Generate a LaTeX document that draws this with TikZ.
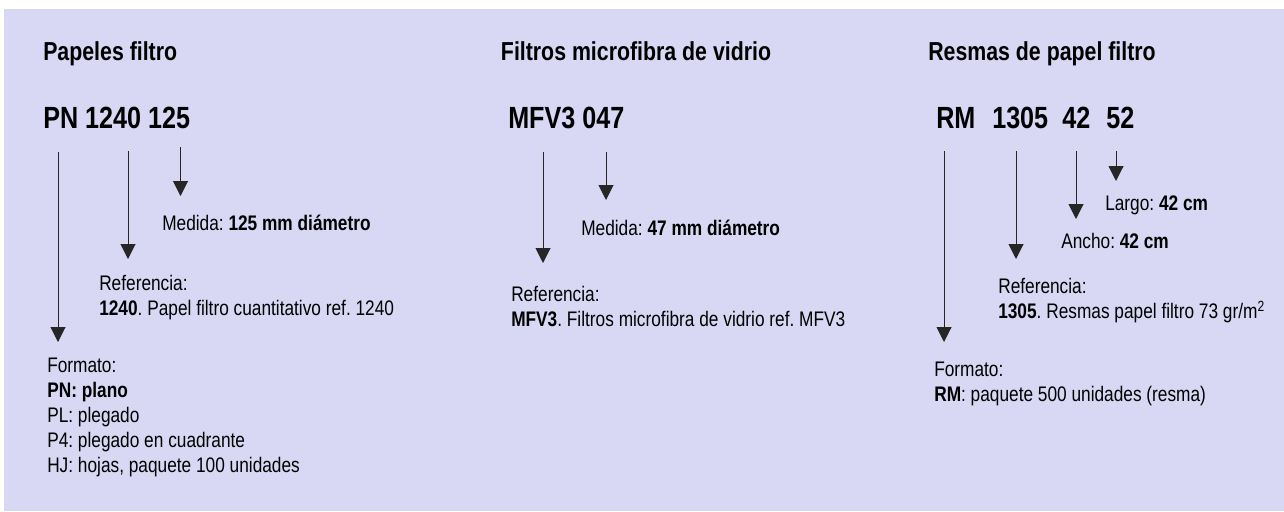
\documentclass[tikz,border=0pt]{standalone}
\usepackage{fontspec}
\setmainfont{Liberation Sans}[FakeStretch=0.82]
\usetikzlibrary{arrows.meta}

\definecolor{lavanda}{RGB}{216,216,244}
\frenchspacing

\begin{document}
\begin{tikzpicture}[x=0.75pt, y=-0.75pt,
    titulo/.style={anchor=base west, inner sep=0pt, font=\fontsize{19.5}{23}\selectfont\bfseries},
    codigo/.style={anchor=base west, inner sep=0pt, font=\fontsize{23}{27}\selectfont\bfseries},
    texto/.style={anchor=base west, inner sep=0pt, align=left, font=\fontsize{15.8}{18.75}\selectfont},
    bloque/.style={texto, anchor=north west},
    flecha/.style={-{Triangle[width=11.25pt,length=11.25pt]}, line width=0.75pt, color=black!85}]

	  % fondo
	  \fill[white] (0,0) rectangle (1284,511);
	  \fill[lavanda] (4,9) rectangle (1284,511);

	  % papeles filtro
	  \node[titulo] (t1) at (43,60) {Papeles filtro};
	  \node[codigo] (c1) at (43,128.5) {PN 1240 125};
	  \node[texto] (med1) at (162,230) {Medida: \textbf{125 mm diámetro}};
	  \node[bloque] (ref1) at (99,274.8) {Referencia:\\ \textbf{1240}. Papel filtro cuantitativo ref. 1240};
	  \node[bloque] (form1) at (47,358) {Formato:\\ \textbf{PN: plano}\\ PL: plegado\\ P4: plegado en cuadrante\\ HJ: hojas, paquete 100 unidades};

	  \coordinate (a1) at (58,152);    \coordinate (b1) at (58,342);
	  \coordinate (a2) at (128,151);   \coordinate (b2) at (128,259);
	  \coordinate (a3) at (180.5,147); \coordinate (b3) at (180.5,196);

	  \path (a1) edge[flecha] (b1)
		(a2) edge[flecha] (b2)
		(a3) edge[flecha] (b3);

	  % filtros microfibra de vidrio
	  \node[titulo] (t2) at (500.7,60) {Filtros microfibra de vidrio};
	  \node[codigo] (c2) at (508,128.5) {MFV3 047};
	  \node[texto] (med2) at (581,235.5) {Medida: \textbf{47 mm diámetro}};
	  \node[bloque] (ref2) at (511,285.8) {Referencia:\\ \textbf{MFV3}. Filtros microfibra de vidrio ref. MFV3};

	  \coordinate (a4) at (543,152); \coordinate (b4) at (543,263);
	  \coordinate (a5) at (606,152); \coordinate (b5) at (606,200);

	  \path (a4) edge[flecha] (b4)
		(a5) edge[flecha] (b5);

	  % resmas de papel filtro
	  \node[titulo] (t3) at (928,60) {Resmas de papel filtro};
	  \node[codigo] (rm) at (936,128.5) {RM};
	  \node[codigo] (num) at (992,128.5) {1305};
	  \node[codigo] (anc) at (1062,128.5) {42};
	  \node[codigo] (lar) at (1106,128.5) {52};
	  \node[texto] (largo) at (1105,210) {Largo: \textbf{42 cm}};
	  \node[texto] (ancho) at (1061,248) {Ancho: \textbf{42 cm}};
	  \node[bloque] (ref3) at (998,278) {Referencia:\\ \textbf{1305}. Resmas papel filtro 73 gr/m\textsuperscript{2}};
	  \node[bloque] (form3) at (934,361.5) {Formato:\\ \textbf{RM}: paquete 500 unidades (resma)};

	  \coordinate (a6) at (944,151);  \coordinate (b6) at (944,342);
	  \coordinate (a7) at (1016,151); \coordinate (b7) at (1016,259);
	  \coordinate (a8) at (1076,151); \coordinate (b8) at (1076,219);
	  \coordinate (a9) at (1116,151); \coordinate (b9) at (1116,181);

	  \path (a6) edge[flecha] (b6)
		(a7) edge[flecha] (b7)
		(a8) edge[flecha] (b8)
		(a9) edge[flecha] (b9);
	\end{tikzpicture}
\end{document}
